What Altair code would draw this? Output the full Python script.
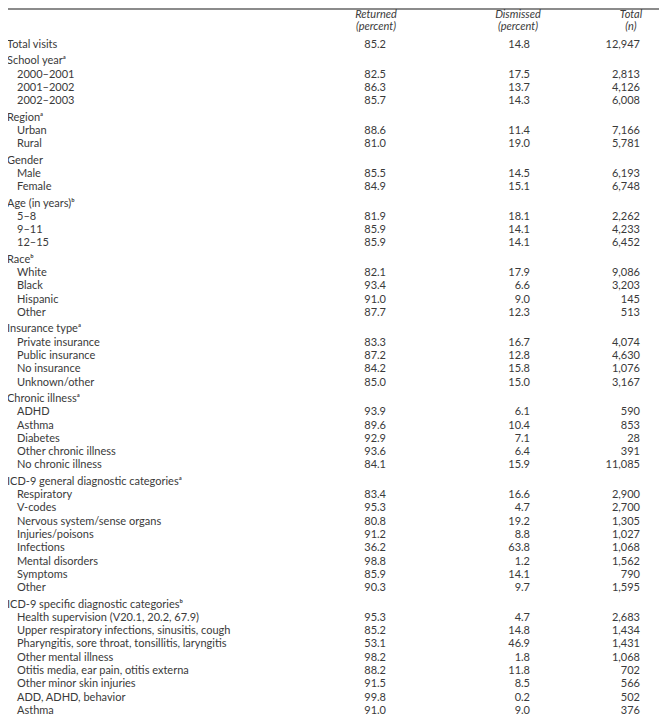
import altair as alt
import pandas as pd

# ---- data ----
labels = [
    "Total visits",
    "School yearᵃ", "2000–2001", "2001–2002", "2002–2003",
    "Regionᵃ", "Urban", "Rural",
    "Gender", "Male", "Female",
    "Age (in years)ᵇ", "5–8", "9–11", "12–15",
    "Raceᵇ", "White", "Black", "Hispanic", "Other",
    "Insurance typeᵃ", "Private insurance", "Public insurance", "No insurance", "Unknown/other",
    "Chronic illnessᵃ", "ADHD", "Asthma", "Diabetes", "Other chronic illness", "No chronic illness",
    "ICD-9 general diagnostic categoriesᵃ", "Respiratory", "V-codes", "Nervous system/sense organs",
    "Injuries/poisons", "Infections", "Mental disorders", "Symptoms", "Other",
    "ICD-9 specific diagnostic categoriesᵇ", "Health supervision (V20.1, 20.2, 67.9)",
    "Upper respiratory infections, sinusitis, cough",
    "Pharyngitis, sore throat, tonsillitis, laryngitis", "Other mental illness",
    "Otitis media, ear pain, otitis externa", "Other minor skin injuries",
    "ADD, ADHD, behavior", "Asthma",
]
is_header = [
    False,
    True, False, False, False,
    True, False, False,
    True, False, False,
    True, False, False, False,
    True, False, False, False, False,
    True, False, False, False, False,
    True, False, False, False, False, False,
    True, False, False, False, False, False, False, False, False,
    True, False, False, False, False, False, False, False, False,
]
returned = [
    85.2,
    None, 82.5, 86.3, 85.7,
    None, 88.6, 81.0,
    None, 85.5, 84.9,
    None, 81.9, 85.9, 85.9,
    None, 82.1, 93.4, 91.0, 87.7,
    None, 83.3, 87.2, 84.2, 85.0,
    None, 93.9, 89.6, 92.9, 93.6, 84.1,
    None, 83.4, 95.3, 80.8, 91.2, 36.2, 98.8, 85.9, 90.3,
    None, 95.3, 85.2, 53.1, 98.2, 88.2, 91.5, 99.8, 91.0,
]
dismissed = [
    14.8,
    None, 17.5, 13.7, 14.3,
    None, 11.4, 19.0,
    None, 14.5, 15.1,
    None, 18.1, 14.1, 14.1,
    None, 17.9, 6.6, 9.0, 12.3,
    None, 16.7, 12.8, 15.8, 15.0,
    None, 6.1, 10.4, 7.1, 6.4, 15.9,
    None, 16.6, 4.7, 19.2, 8.8, 63.8, 1.2, 14.1, 9.7,
    None, 4.7, 14.8, 46.9, 1.8, 11.8, 8.5, 0.2, 9.0,
]
totals = [
    12947,
    None, 2813, 4126, 6008,
    None, 7166, 5781,
    None, 6193, 6748,
    None, 2262, 4233, 6452,
    None, 9086, 3203, 145, 513,
    None, 4074, 4630, 1076, 3167,
    None, 590, 853, 28, 391, 11085,
    None, 2900, 2700, 1305, 1027, 1068, 1562, 790, 1595,
    None, 2683, 1434, 1431, 1068, 702, 566, 502, 376,
]
col_titles = ["Returned", "Dismissed", "Total"]
col_units = ["(percent)", "(percent)", "(n)"]

# ---- layout helpers ----
OFF = 8
GAP = 0.23  # extra space before each group, in rows
rows = []
group = 0
for i, lab in enumerate(labels):
    if i > 0 and (is_header[i]):
        group += 1
    rows.append({
        "label": lab,
        "indent": (not is_header[i]) and i > 0,
        "pos": i + GAP * group,
        "returned": "" if returned[i] is None else f"{returned[i]:.1f}",
        "dismissed": "" if dismissed[i] is None else f"{dismissed[i]:.1f}",
        "total": "" if totals[i] is None else f"{totals[i]:,}",
    })
df = pd.DataFrame(rows)
maxpos = df["pos"].max()

yscale = alt.Scale(domain=[0, maxpos], range=[45 - OFF, 711 - OFF])
Y = alt.Y("pos:Q", scale=yscale, axis=None)

FONT = "Lato"
COLOR = "#3a3a3a"
FS = 11

base = alt.Chart(df)

lab_main = base.transform_filter("!datum.indent").mark_text(
    align="left", baseline="middle", font=FONT, fontSize=FS, color=COLOR
).encode(x=alt.value(7 - OFF), y=Y, text="label:N")
lab_ind = base.transform_filter("datum.indent").mark_text(
    align="left", baseline="middle", font=FONT, fontSize=FS, color=COLOR
).encode(x=alt.value(17 - OFF), y=Y, text="label:N")

col_ret = base.mark_text(align="right", baseline="middle", font=FONT, fontSize=FS, color=COLOR).encode(
    x=alt.value(386 - OFF), y=Y, text="returned:N")
col_dis = base.mark_text(align="right", baseline="middle", font=FONT, fontSize=FS, color=COLOR).encode(
    x=alt.value(530 - OFF), y=Y, text="dismissed:N")
col_tot = base.mark_text(align="right", baseline="middle", font=FONT, fontSize=FS, color=COLOR).encode(
    x=alt.value(640 - OFF), y=Y, text="total:N")

hdr_x = [376, 518, 631]
hdr = pd.DataFrame({"title": col_titles, "unit": col_units, "hx": [v - OFF for v in hdr_x]})
hdr_title = alt.Chart(hdr).mark_text(
    align="center", baseline="middle", font=FONT, fontSize=FS, fontStyle="italic", color=COLOR
).encode(x=alt.X("hx:Q", scale=None), y=alt.value(15 - OFF), text="title:N")
hdr_unit = alt.Chart(hdr).mark_text(
    align="center", baseline="middle", font=FONT, fontSize=FS, fontStyle="italic", color=COLOR
).encode(x=alt.X("hx:Q", scale=None), y=alt.value(27 - OFF), text="unit:N")

top_rule = alt.Chart(hdr).mark_rule(color="#8a8a8a", strokeWidth=1.5).encode(
    x=alt.value(0), x2=alt.value(651), y=alt.value(1))
bot_rule = alt.Chart(hdr).mark_rule(color="#8a8a8a", strokeWidth=1.5).encode(
    x=alt.value(0), x2=alt.value(651), y=alt.value(721 - OFF))

chart = alt.layer(
    top_rule, bot_rule, hdr_title, hdr_unit, lab_main, lab_ind, col_ret, col_dis, col_tot
).properties(width=651, height=708, padding=0, autosize="none").configure_view(stroke=None)

chart.save("out.html", embed_options={"renderer": "svg", "actions": False})
